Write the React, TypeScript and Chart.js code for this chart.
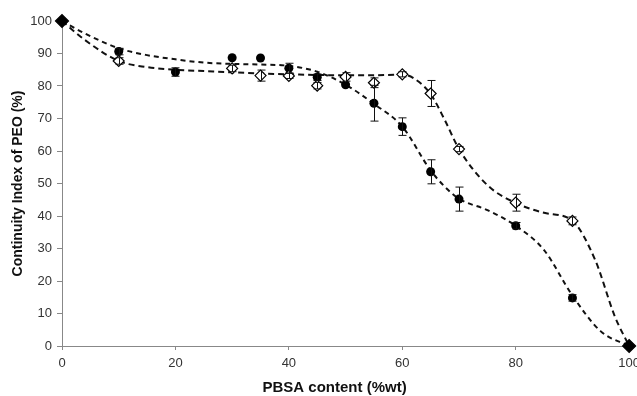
import React, { useEffect, useRef } from "react";
import { Chart, registerables } from "chart.js";

Chart.register(...registerables);

// Measured data (filled circles)
const FILLED_X = [0, 10, 20, 30, 35, 40, 45, 50, 55, 60, 65, 70, 80, 90, 100];
const FILLED_Y = [100, 90.6, 84.3, 88.7, 88.6, 85.5, 82.7, 80.4, 74.7, 67.5, 53.6, 45.2, 37.0, 14.8, 0];
const FILLED_ERR = [0, 1, 1.3, 0, 0, 1.5, 1, 0, 5.5, 2.7, 3.7, 3.7, 1, 1, 0];

// Measured data (open diamonds)
const OPEN_X = [0, 10, 30, 35, 40, 45, 50, 55, 60, 65, 70, 80, 90, 100];
const OPEN_Y = [100, 87.7, 85.4, 83.2, 83.1, 80.1, 82.8, 81.0, 83.6, 77.7, 60.6, 44.1, 38.5, 0];
const OPEN_ERR = [0, 1, 1, 1.7, 0.8, 1, 1.3, 1.5, 0.8, 4, 0.8, 2.6, 1.2, 0];

// Trend curves (dashed)
const FILLED_TREND_X = [0, 4, 10, 15, 20, 25, 30, 35, 40, 45, 50, 55, 60, 65, 67.5, 70, 75, 80, 85, 90, 95, 100];
const FILLED_TREND_Y = [100, 96.2, 91.6, 89.5, 88.2, 87.2, 86.8, 86.6, 86.2, 84.4, 80.4, 74.5, 67.5, 54, 49, 45.3, 41.8, 37, 29.5, 15.5, 4.5, 0];
const OPEN_TREND_X = [0, 4, 10, 15, 20, 25, 30, 40, 50, 55, 60, 62, 65, 67.5, 70, 75, 80, 85, 90, 94, 97.5, 100];
const OPEN_TREND_Y = [100, 94.2, 87.7, 85.8, 85.0, 84.6, 84.2, 83.6, 83.3, 83.3, 83.5, 82.4, 77.5, 69.5, 60.6, 49.5, 44, 41, 38.5, 26.5, 9, 0];

const X_TICK_STEP = 20;
const Y_TICK_STEP = 10;

const FONT = "'Liberation Sans', Arial, sans-serif";

const pts = (xs: number[], ys: number[]) => xs.map((x, i) => ({ x, y: ys[i] }));

const errorBarPlugin = {
  id: "errorBars",
  afterDatasetsDraw(chart: any) {
    const { ctx, scales } = chart;
    const xs = scales.x;
    const ys = scales.y;
    ctx.save();
    ctx.strokeStyle = "#111";
    ctx.lineWidth = 1;
    const draw = (X: number[], Y: number[], E: number[]) => {
      for (let i = 0; i < X.length; i++) {
        if (!E[i]) continue;
        const px = Math.round(xs.getPixelForValue(X[i])) + 0.5;
        const t = ys.getPixelForValue(Y[i] + E[i]);
        const b = ys.getPixelForValue(Y[i] - E[i]);
        ctx.beginPath();
        ctx.moveTo(px, t);
        ctx.lineTo(px, b);
        ctx.moveTo(px - 4, t);
        ctx.lineTo(px + 4, t);
        ctx.moveTo(px - 4, b);
        ctx.lineTo(px + 4, b);
        ctx.stroke();
      }
    };
    draw(FILLED_X, FILLED_Y, FILLED_ERR);
    draw(OPEN_X, OPEN_Y, OPEN_ERR);
    ctx.restore();
  },
};

const xTitlePlugin = {
  id: "xTitle",
  afterDraw(chart: any) {
    const { ctx, chartArea } = chart;
    ctx.save();
    ctx.font = `bold 15px ${FONT}`;
    ctx.fillStyle = "#111";
    ctx.textAlign = "center";
    ctx.textBaseline = "middle";
    ctx.fillText("PBSA content (%wt)", (chartArea.left + chartArea.right) / 2 - 11, 388);
    ctx.restore();
  },
};

export default function App() {
  const ref = useRef<HTMLCanvasElement | null>(null);
  useEffect(() => {
    if (!ref.current) return;
    const openBg = OPEN_X.map((x) => (x === 0 || x === 100 ? "#000" : "#fff"));
    const openR = OPEN_X.map((x) => (x === 0 || x === 100 ? 6.5 : 5.5));
    const chart = new Chart(ref.current, {
      type: "scatter",
      data: {
        datasets: [
          {
            label: "Open",
            data: pts(OPEN_X, OPEN_Y),
            pointStyle: "rectRot",
            pointRadius: openR,
            pointBackgroundColor: openBg,
            pointBorderColor: "#000",
            pointBorderWidth: 1.2,
            showLine: false,
            clip: false,
            order: 0,
          },
          {
            label: "Filled",
            data: pts(FILLED_X.slice(1, -1), FILLED_Y.slice(1, -1)),
            pointStyle: "circle",
            pointRadius: 4.5,
            pointBackgroundColor: "#000",
            pointBorderColor: "#000",
            pointBorderWidth: 0,
            showLine: false,
            clip: false,
            order: 1,
          },
          {
            label: "Filled trend",
            data: pts(FILLED_TREND_X, FILLED_TREND_Y),
            showLine: true,
            borderColor: "#111",
            borderWidth: 2,
            borderDash: [5, 4],
            pointRadius: 0,
            cubicInterpolationMode: "monotone",
            clip: false,
            order: 2,
          },
          {
            label: "Open trend",
            data: pts(OPEN_TREND_X, OPEN_TREND_Y),
            showLine: true,
            borderColor: "#111",
            borderWidth: 2,
            borderDash: [6, 4],
            pointRadius: 0,
            cubicInterpolationMode: "monotone",
            clip: false,
            order: 3,
          },
        ],
      },
      options: {
        animation: false,
        responsive: true,
        maintainAspectRatio: false,
        layout: { padding: { top: 21, right: 13, left: 0, bottom: 0 } },
        plugins: { legend: { display: false }, tooltip: { enabled: false } },
        scales: {
          x: {
            type: "linear",
            min: 0,
            max: 100,
            afterFit: (s: any) => {
              s.height = 50;
            },
            ticks: {
              stepSize: X_TICK_STEP,
              color: "#333",
              font: { family: FONT, size: 13 },
              padding: 6,
            },
            grid: { drawOnChartArea: false, drawTicks: true, tickLength: 4, color: "#888" },
            border: { color: "#888", width: 1 },
          },
          y: {
            type: "linear",
            min: 0,
            max: 100,
            afterFit: (s: any) => {
              s.width = 62;
            },
            ticks: {
              stepSize: Y_TICK_STEP,
              color: "#333",
              font: { family: FONT, size: 13 },
              padding: 5,
            },
            grid: { drawOnChartArea: false, drawTicks: true, tickLength: 5, color: "#888" },
            border: { color: "#888", width: 1 },
            title: {
              display: true,
              text: "Continuity Index of PEO (%)",
              color: "#111",
              font: { family: FONT, size: 14, weight: "bold" },
              padding: { top: 10, bottom: 0 },
            },
          },
        },
      },
      plugins: [errorBarPlugin, xTitlePlugin],
    } as any);
    return () => chart.destroy();
  }, []);
  return (
    <div style={{ position: "fixed", left: 0, top: 0, width: 646, height: 396, background: "#fff" }}>
      <canvas ref={ref} />
    </div>
  );
}
